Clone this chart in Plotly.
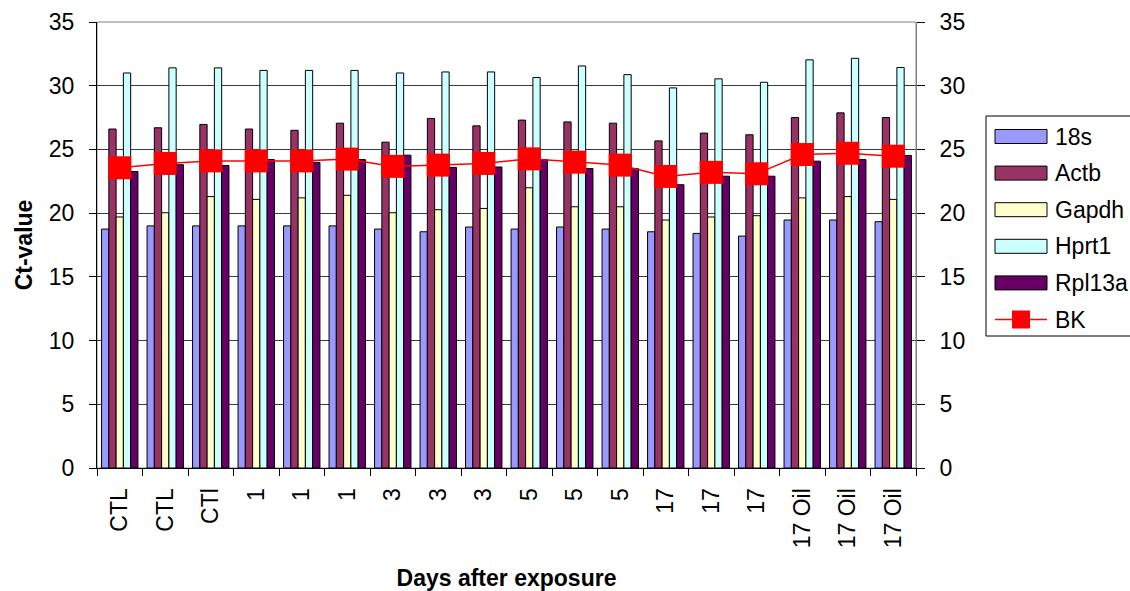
import plotly.graph_objects as go

# Sampling days (one group of bars per sample)
days = ["CTL", "CTL", "CTl", "1", "1", "1", "3", "3", "3",
        "5", "5", "5", "17", "17", "17", "17 Oil", "17 Oil", "17 Oil"]

# Ct-values per reference gene
ct_18s = [18.75, 19.0, 19.0, 19.0, 19.0, 19.0, 18.75, 18.54, 18.91,
          18.75, 18.91, 18.75, 18.54, 18.41, 18.2, 19.46, 19.46, 19.33]
ct_actb = [26.6, 26.7, 26.96, 26.6, 26.5, 27.06, 25.57, 27.43, 26.85,
           27.3, 27.16, 27.06, 25.67, 26.28, 26.15, 27.5, 27.87, 27.5]
ct_gapdh = [19.7, 20.03, 21.3, 21.08, 21.2, 21.4, 20.03, 20.27, 20.37,
            21.99, 20.5, 20.5, 19.46, 19.7, 19.8, 21.2, 21.3, 21.08]
ct_hprt1 = [31.0, 31.4, 31.4, 31.2, 31.2, 31.2, 31.0, 31.08, 31.08,
            30.64, 31.55, 30.87, 29.83, 30.54, 30.27, 32.03, 32.15, 31.43]
ct_rpl13a = [23.27, 23.8, 23.74, 24.2, 23.98, 24.2, 24.55, 23.59, 23.62,
             24.2, 23.5, 23.5, 22.23, 22.9, 22.9, 24.08, 24.2, 24.53]
# Target gene
ct_bk = [23.56, 23.9, 24.1, 24.1, 24.1, 24.24, 23.67, 23.77, 23.9,
         24.26, 24.0, 23.77, 22.88, 23.2, 23.09, 24.6, 24.7, 24.47]

gene_names = ["18s", "Actb", "Gapdh", "Hprt1", "Rpl13a"]
gene_values = [ct_18s, ct_actb, ct_gapdh, ct_hprt1, ct_rpl13a]
gene_colors = ["#9999FF", "#993366", "#FFFFCC", "#CCFFFF", "#660066"]
bk_color = "#FF0000"

FONT = "Liberation Sans, Arial, sans-serif"
W, H = 1130, 591
PL, PR, PT, PB = 97, 916, 22, 468  # plot area edges in pixels

def px_x(p):
    return (p - PL) / (PR - PL)

def px_y(p):
    return (PB - p) / (PB - PT)

x = list(range(len(days)))

fig = go.Figure()
for name, vals, col in zip(gene_names, gene_values, gene_colors):
    fig.add_trace(go.Bar(
        x=x, y=vals, name=name,
        marker=dict(color=col, line=dict(color="#000000", width=1)),
        showlegend=False,
    ))

fig.add_trace(go.Scatter(
    x=x, y=ct_bk, name="BK", yaxis="y2", mode="lines+markers",
    line=dict(color=bk_color, width=1.5),
    marker=dict(symbol="square", size=23, color=bk_color),
    showlegend=False,
))

# Legend drawn as a framed key to the right of the plot
shapes = []
annotations = []
shapes.append(dict(type="rect", xref="paper", yref="paper",
                   x0=px_x(986), x1=px_x(1145), y0=px_y(116), y1=px_y(336),
                   line=dict(color="#000000", width=1), fillcolor="rgba(0,0,0,0)"))
row0, step = 136.5, 36.6
for i, (name, col) in enumerate(zip(gene_names, gene_colors)):
    cy = row0 + i * step
    shapes.append(dict(type="rect", xref="paper", yref="paper",
                       x0=px_x(995), x1=px_x(1047), y0=px_y(cy + 7), y1=px_y(cy - 7),
                       fillcolor=col, line=dict(color="#000000", width=1)))
    annotations.append(dict(text=name, xref="paper", yref="paper",
                            x=px_x(1053), y=px_y(cy), xanchor="left", yanchor="middle",
                            showarrow=False, font=dict(family=FONT, size=23, color="#000")))
cy = row0 + len(gene_names) * step
shapes.append(dict(type="line", xref="paper", yref="paper",
                   x0=px_x(995), x1=px_x(1047), y0=px_y(cy), y1=px_y(cy),
                   line=dict(color=bk_color, width=1.5)))
shapes.append(dict(type="rect", xref="paper", yref="paper",
                   x0=px_x(1012), x1=px_x(1030), y0=px_y(cy + 9), y1=px_y(cy - 9),
                   fillcolor=bk_color, line=dict(color=bk_color, width=0)))
annotations.append(dict(text="BK", xref="paper", yref="paper",
                        x=px_x(1053), y=px_y(cy), xanchor="left", yanchor="middle",
                        showarrow=False, font=dict(family=FONT, size=23, color="#000")))

# Plot frame (top and right edges in grey)
shapes.append(dict(type="rect", xref="paper", yref="paper", x0=0, x1=1, y0=0, y1=1,
                   line=dict(color="#808080", width=1), layer="below"))

fig.update_layout(
    width=W, height=H,
    margin=dict(l=PL, r=W - PR, t=PT, b=H - PB, autoexpand=False),
    paper_bgcolor="#FFFFFF", plot_bgcolor="#FFFFFF",
    font=dict(family=FONT, size=23, color="#000000"),
    barmode="group", bargap=0.2, bargroupgap=0.0,
    showlegend=False,
    shapes=shapes, annotations=annotations,
    xaxis=dict(
        range=[-0.5, len(days) - 0.5],
        tickmode="array", tickvals=x, ticktext=days, tickangle=-90,
        ticks="", ticklabelstandoff=10,
        minor=dict(tick0=-0.5, dtick=1, ticks="outside", ticklen=7,
                   tickcolor="#000000", tickwidth=1),
        showline=True, linecolor="#000000", linewidth=1,
        showgrid=False, zeroline=False,
        tickfont=dict(family=FONT, size=23),
        title=dict(text="<b>Days after exposure</b>", standoff=22,
                   font=dict(family=FONT, size=23)),
        automargin=False,
    ),
    yaxis=dict(
        range=[0, 35], dtick=5, tick0=0,
        ticks="outside", ticklen=7, tickcolor="#000000",
        showline=True, linecolor="#000000", linewidth=1,
        showgrid=True, gridcolor="#3a3a3a", gridwidth=1,
        zeroline=False, ticklabelstandoff=10,
        tickfont=dict(family=FONT, size=23),
        title=dict(text="<b>Ct-value</b>", standoff=9,
                   font=dict(family=FONT, size=23)),
        automargin=False,
    ),
    yaxis2=dict(
        range=[0, 35], dtick=5, tick0=0, overlaying="y", side="right",
        ticks="outside", ticklen=8, tickcolor="#000000",
        showline=True, linecolor="#808080", linewidth=1,
        showgrid=False, zeroline=False, ticklabelstandoff=10,
        tickfont=dict(family=FONT, size=23),
        automargin=False,
    ),
)

fig.write_html("out.html")
